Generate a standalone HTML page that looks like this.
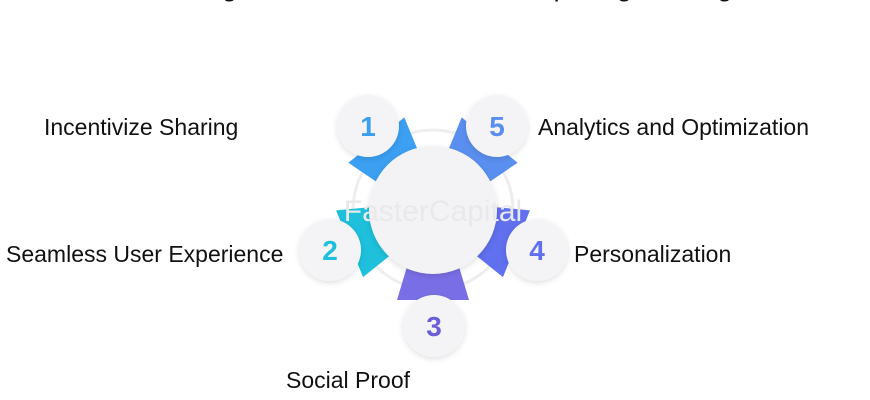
<!DOCTYPE html>
<html><head><style>
body{margin:0;width:870px;height:400px;background:#fff;overflow:hidden;position:relative;font-family:"Liberation Sans",sans-serif}
.t{position:absolute;font-size:23px;color:#111;white-space:nowrap}
</style></head><body>
<div class="t" style="left:150px;top:-28px;font-size:27px;">Strategies for Seamless and Compelling Sharing</div>
<svg width="870" height="400" style="position:absolute;left:0;top:0">
<defs>
<filter id="sh" x="-50%" y="-50%" width="200%" height="200%"><feDropShadow dx="0" dy="2" stdDeviation="3" flood-color="#000" flood-opacity="0.12"/></filter>
</defs>
<circle cx="433" cy="210" r="80" fill="none" stroke="#eeeeef" stroke-width="3"/>
<g transform="translate(433,210)">
<polygon points="-24,-50 24,-50 36,-90 -36,-90" fill="#3b9ff2" transform="rotate(-39)"/>
<polygon points="-24,-50 24,-50 36,-90 -36,-90" fill="#5a8ff0" transform="rotate(39)"/>
<polygon points="-24,-50 24,-50 36,-90 -36,-90" fill="#1ec0dc" transform="rotate(-112)"/>
<polygon points="-24,-50 24,-50 36,-90 -36,-90" fill="#6070ee" transform="rotate(112)"/>
<polygon points="-24,-50 24,-50 36,-90 -36,-90" fill="#7a6ee6" transform="rotate(180)"/>
</g>
<circle cx="433" cy="210" r="64" fill="#f3f3f5" filter="url(#sh)"/>
<text x="433" y="221" text-anchor="middle" font-family="Liberation Sans" font-size="30" fill="#e9e9eb">FasterCapital</text>
<g filter="url(#sh)" fill="#f4f4f6">
<circle cx="368" cy="126" r="31"/><circle cx="497" cy="126" r="31"/>
<circle cx="330" cy="250" r="31"/><circle cx="537" cy="250" r="31"/>
<circle cx="434" cy="326" r="31"/>
</g>
<g font-family="Liberation Sans" font-weight="bold" font-size="28" text-anchor="middle">
<text x="368" y="136" fill="#3b9ff2">1</text>
<text x="497" y="136" fill="#5a8ff0">5</text>
<text x="330" y="260" fill="#1ec0dc">2</text>
<text x="537" y="260" fill="#6070ee">4</text>
<text x="434" y="336" fill="#6a5fd8">3</text>
</g>
</svg>
<div class="t" style="left:44px;top:114px">Incentivize Sharing</div>
<div class="t" style="left:538px;top:114px">Analytics and Optimization</div>
<div class="t" style="left:6px;top:241px">Seamless User Experience</div>
<div class="t" style="left:574px;top:241px">Personalization</div>
<div class="t" style="left:286px;top:367px">Social Proof</div>
</body></html>
